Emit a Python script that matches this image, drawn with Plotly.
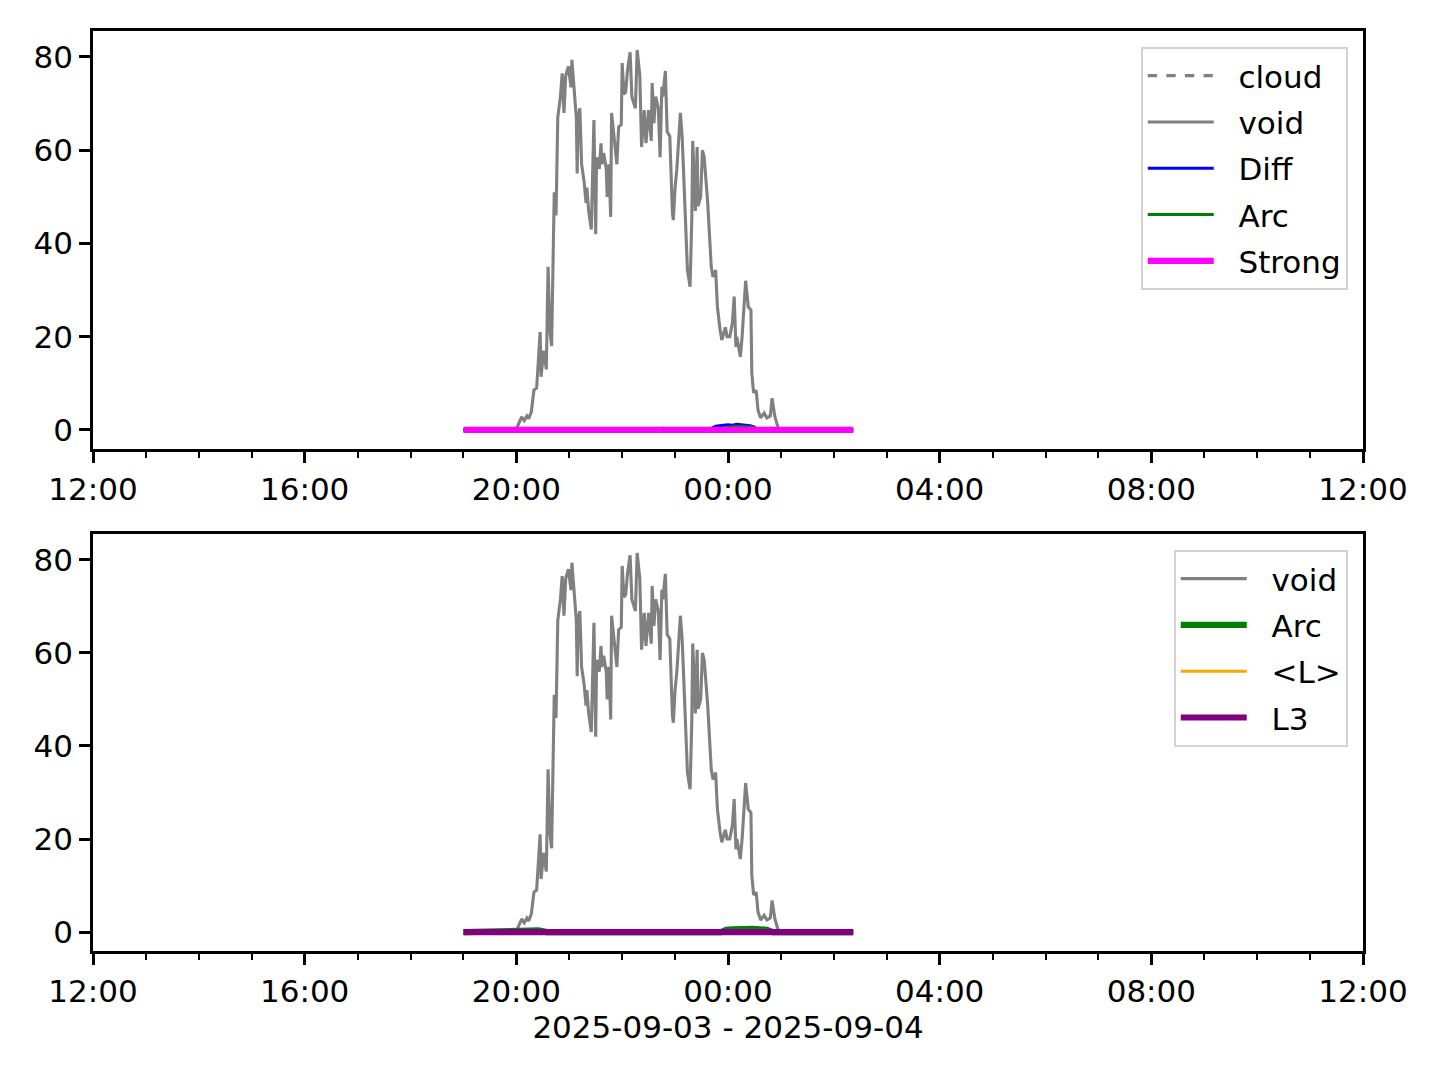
import datetime as dt
import plotly.graph_objects as go

# ---------------- data ----------------
void_times = ["19:00", "19:58", "20:01", "20:04", "20:06", "20:09", "20:12", "20:14", "20:17", "20:20",
              "20:23", "20:27", "20:28", "20:31", "20:34", "20:36", "20:38", "20:40", "20:43", "20:45",
              "20:47", "20:50", "20:52", "20:54", "20:56", "20:59", "21:02", "21:03", "21:05", "21:08",
              "21:09", "21:10", "21:12", "21:14", "21:17", "21:19", "21:20", "21:22", "21:25", "21:26",
              "21:28", "21:30", "21:31", "21:34", "21:36", "21:37", "21:39", "21:42", "21:43", "21:45",
              "21:47", "21:48", "21:51", "21:53", "21:54", "21:56", "21:59", "22:00", "22:02", "22:04",
              "22:06", "22:09", "22:11", "22:15", "22:17", "22:20", "22:22", "22:25", "22:27", "22:30",
              "22:33", "22:34", "22:36", "22:38", "22:41", "22:43", "22:45", "22:46", "22:49", "22:51",
              "22:54", "22:57", "22:58", "23:00", "23:02", "23:06", "23:08", "23:10", "23:12", "23:14",
              "23:17", "23:19", "23:20", "23:23", "23:25", "23:26", "23:29", "23:31", "23:33", "23:35",
              "23:37", "23:41", "23:43", "23:46", "23:48", "23:51", "23:53", "23:57", "23:59", "00:02",
              "00:05", "00:07", "00:09", "00:10", "00:14", "00:16", "00:18", "00:20", "00:23", "00:26",
              "00:27", "00:29", "00:32", "00:34", "00:37", "00:41", "00:44", "00:48", "00:50", "00:53",
              "00:56", "00:58", "02:22"]
void_vals = [0, 0, 0.6, 1.8, 2.8, 2.0, 3.0, 2.4, 3.9, 8.6,
             9.0, 21.0, 11.4, 17.0, 13.0, 35.0, 21.5, 18.0, 51.0, 46.0,
             67.0, 71.5, 76.5, 68.0, 76.0, 78.0, 73.5, 79.4, 75.0, 67.0,
             55.0, 67.0, 69.0, 57.0, 53.0, 48.7, 52.0, 47.0, 43.0, 51.0,
             66.5, 42.0, 58.5, 56.0, 61.5, 57.0, 59.4, 56.0, 50.0, 57.0,
             45.7, 68.0, 63.0, 58.5, 57.0, 65.0, 65.5, 78.7, 72.0, 72.5,
             77.0, 81.0, 71.5, 69.0, 81.5, 76.0, 60.7, 68.6, 61.5, 68.6,
             62.0, 74.4, 65.8, 71.5, 69.0, 58.5, 73.6, 71.5, 77.0, 64.0,
             63.0, 46.5, 45.0, 52.0, 56.0, 68.0, 63.0, 53.6, 43.0, 34.3,
             30.7, 45.7, 62.0, 47.0, 60.7, 48.0, 50.0, 60.0, 58.5, 54.3,
             48.7, 35.0, 32.8, 34.3, 26.4, 21.5, 19.3, 22.0, 20.0, 20.0,
             23.0, 28.6, 17.8, 20.0, 15.7, 20.0, 25.7, 32.0, 26.4, 25.7,
             12.2, 8.0, 8.5, 4.3, 2.6, 3.6, 2.6, 3.0, 6.8, 3.0,
             1.0, 0, 0]

flat_times = ["19:00", "02:22"]
cloud_vals = [0, 0]
strong_vals = [0, 0]
L_vals = [0, 0]
L3_vals = [0, 0]

diff_times = ["19:00", "22:45", "22:47", "22:49", "23:38", "23:42", "23:46", "23:50", "23:55", "00:00",
              "00:05", "00:10", "00:15", "00:20", "00:25", "00:30", "00:33", "02:22"]
diff_vals = [0, 0, 0.3, 0, 0, 0.5, 0.8, 0.9, 1.0, 1.1,
             1.0, 1.2, 1.1, 1.0, 0.9, 0.6, 0, 0]

arc_times = ["19:00", "23:50", "23:55", "00:00", "00:05", "00:10", "00:15", "00:20", "00:25", "00:30",
             "00:34", "02:22"]
arc_vals = [0, 0, 0.4, 0.6, 0.7, 0.8, 0.8, 0.7, 0.6, 0.5, 0, 0]

arc2_times = ["19:00", "20:08", "20:15", "20:25", "20:35", "23:52", "23:58", "00:05", "00:12", "00:20",
              "00:28", "00:36", "00:44", "00:51", "02:22"]
arc2_vals = [0, 0, 0.3, 0.35, 0, 0, 0.5, 0.6, 0.7, 0.8, 0.7, 0.6, 0.5, 0, 0]

x_range = ["2025-09-03 12:00", "2025-09-04 12:00"]
y_ticks = [0, 20, 40, 60, 80]
x_title = "2025-09-03 - 2025-09-04"


def to_dt(hm):
    h, m = map(int, hm.split(":"))
    day = 3 if h >= 12 else 4
    return dt.datetime(2025, 9, day, h, m)


def conv(ts):
    return [to_dt(t) for t in ts]


FONT = "DejaVu Sans"
FS = 31
W1 = 3.1
W2 = 6.2
GAP = "\u00a0\u00a0"

fig = go.Figure()

# top panel
fig.add_trace(go.Scatter(x=conv(flat_times), y=cloud_vals, mode="lines", name=GAP + "cloud",
                         line=dict(color="gray", width=W1, dash="dash"),
                         xaxis="x", yaxis="y", legend="legend", legendgroup="a1"))
fig.add_trace(go.Scatter(x=conv(void_times), y=void_vals, mode="lines", name=GAP + "void",
                         line=dict(color="gray", width=W1),
                         xaxis="x", yaxis="y", legend="legend", legendgroup="a2"))
fig.add_trace(go.Scatter(x=conv(diff_times), y=diff_vals, mode="lines", name=GAP + "Diff",
                         line=dict(color="blue", width=W1),
                         xaxis="x", yaxis="y", legend="legend", legendgroup="a3"))
fig.add_trace(go.Scatter(x=conv(arc_times), y=arc_vals, mode="lines", name=GAP + "Arc",
                         line=dict(color="green", width=W1),
                         xaxis="x", yaxis="y", legend="legend", legendgroup="a4"))
fig.add_trace(go.Scatter(x=conv(flat_times), y=strong_vals, mode="lines", name=GAP + "Strong",
                         line=dict(color="magenta", width=W2),
                         xaxis="x", yaxis="y", legend="legend", legendgroup="a5"))

# bottom panel
fig.add_trace(go.Scatter(x=conv(void_times), y=void_vals, mode="lines", name=GAP + "void",
                         line=dict(color="gray", width=W1),
                         xaxis="x2", yaxis="y2", legend="legend2", legendgroup="b1"))
fig.add_trace(go.Scatter(x=conv(arc2_times), y=arc2_vals, mode="lines", name=GAP + "Arc",
                         line=dict(color="green", width=W2),
                         xaxis="x2", yaxis="y2", legend="legend2", legendgroup="b2"))
fig.add_trace(go.Scatter(x=conv(flat_times), y=L_vals, mode="lines", name=GAP + "&lt;L&gt;",
                         line=dict(color="orange", width=W1),
                         xaxis="x2", yaxis="y2", legend="legend2", legendgroup="b3"))
fig.add_trace(go.Scatter(x=conv(flat_times), y=L3_vals, mode="lines", name=GAP + "L3",
                         line=dict(color="purple", width=W2),
                         xaxis="x2", yaxis="y2", legend="legend2", legendgroup="b4"))

all_vals = void_vals + diff_vals + arc_vals + arc2_vals + strong_vals + L3_vals
ymin, ymax = min(all_vals), max(all_vals)
pad = 0.05 * (ymax - ymin)
y_range = [ymin - pad, ymax + pad]

xaxis_common = dict(
    type="date", range=x_range, dtick=4 * 3600 * 1000, tick0="2025-09-03 12:00",
    tickformat="%H:%M", ticks="outside", ticklen=11, tickwidth=2.5, tickcolor="black",
    showline=True, linecolor="black", linewidth=2.5, mirror=True,
    showgrid=False, zeroline=False,
    minor=dict(dtick=3600 * 1000, ticks="outside", ticklen=6, tickwidth=2, tickcolor="black", showgrid=False),
    tickfont=dict(family=FONT, size=FS, color="black"),
)
yaxis_common = dict(
    range=y_range, tickvals=y_ticks, ticks="outside", ticklen=11, tickwidth=2.5, tickcolor="black",
    showline=True, linecolor="black", linewidth=2.5, mirror=True,
    showgrid=False, zeroline=False,
    tickfont=dict(family=FONT, size=FS, color="black"),
)

legend_common = dict(
    xanchor="right", yanchor="top",
    font=dict(family=FONT, size=FS, color="black"),
    bgcolor="white", bordercolor="#d3d3d3", borderwidth=2,
    traceorder="grouped", tracegroupgap=3, itemwidth=66,
)

# page body adds an 8px offset; margins compensate so the axes land at x 93..1363, y 31..951
fig.update_layout(
    width=1440, height=1080,
    margin=dict(l=85, r=85, t=23, b=137, autoexpand=False),
    paper_bgcolor="white", plot_bgcolor="white",
    showlegend=True,
    xaxis=dict(domain=[0, 1], anchor="y", **xaxis_common),
    yaxis=dict(domain=[0.5457, 1.0], anchor="x", **yaxis_common),
    xaxis2=dict(domain=[0, 1], anchor="y2",
                title=dict(text=x_title, font=dict(family=FONT, size=FS, color="black"), standoff=6),
                **xaxis_common),
    yaxis2=dict(domain=[0, 0.4533], anchor="x2", **yaxis_common),
    legend=dict(x=0.988, y=0.9826, **legend_common),
    legend2=dict(x=0.988, y=0.4359, **legend_common),
)

fig.write_html("out.html")
